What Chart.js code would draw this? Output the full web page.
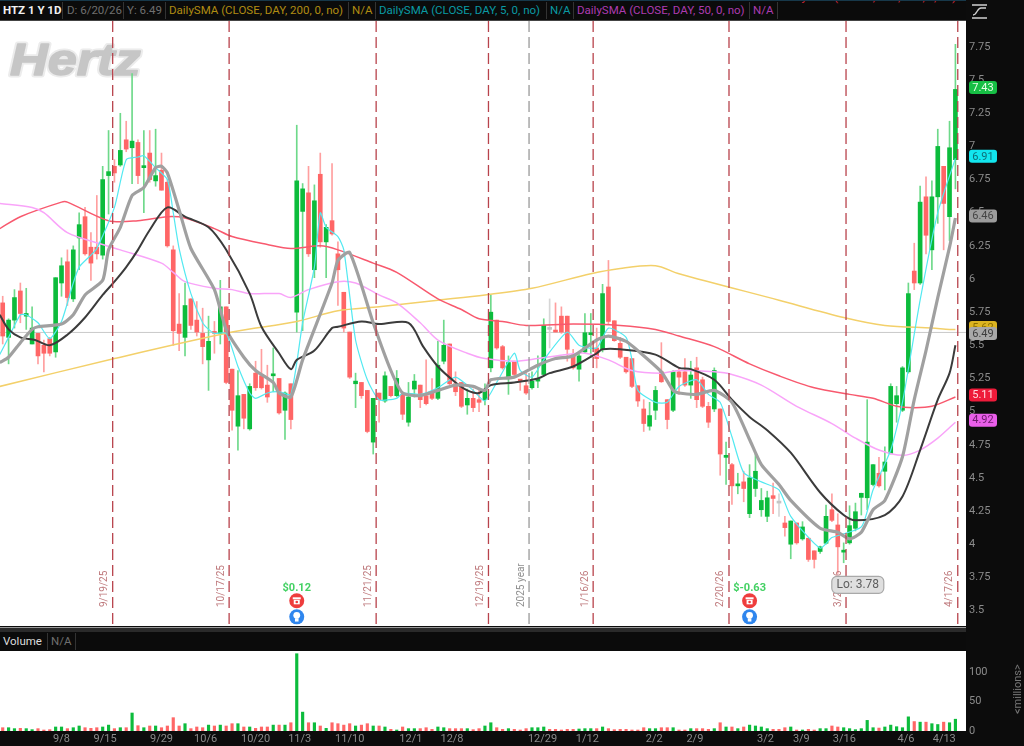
<!DOCTYPE html>
<html>
<head>
<meta charset="utf-8">
<title>HTZ 1 Y 1D</title>
<script src="https://cdn.jsdelivr.net/npm/chart.js@4"></script>
<style>
    html, body { margin: 0; padding: 0; background: #0c0c0c; width: 1024px; height: 746px; overflow: hidden; font-family: Roboto, sans-serif; }
    canvas { position: absolute; left: 0; display: block; }
    #chartPrice { top: 0; }
    #chartVolume { top: 651px; }
    .strip { position: absolute; left: 0; width: 966px; background: #0b0b0b; overflow: hidden; font-size: 11.5px; line-height: 19px; white-space: nowrap; }
    .strip span { position: absolute; top: 0; }
    .strip i { position: absolute; top: 1px; bottom: 1px; width: 1px; background: #333; }
    #legend { top: 0; border-top: 1px solid #17384a; border-bottom: 1px solid #444; box-sizing: border-box; height: 21px; z-index: 2; }
    #volumeBar { top: 627px; height: 24px; border-top: 1px solid #999; box-sizing: border-box; background: #0b0b0b; }
    #volumeBar b { position: absolute; left: 0; right: 0; top: 0; height: 4px; background: #2a2a2a; }
    #volumeBar span { top: 4px; }
    #volumeBar i { top: 5px; }
    #millions { position: absolute; left: 995px; top: 684px; width: 46px; text-align: center; transform: rotate(-90deg); color: #777; font-size: 11px; line-height: 14px; }
    #tool { position: absolute; left: 971px; top: 3px; z-index: 2; }
</style>
</head>
<body>
<canvas id="chartPrice" width="1024" height="627"></canvas>
<canvas id="chartVolume" width="1024" height="95"></canvas>

<div id="legend" class="strip">
    <span style="left:3px;color:#f2f2f2;font-weight:700">HTZ 1 Y 1D</span><i style="left:62px"></i>
    <span style="left:67px;color:#6f6f6f">D: 6/20/26</span><i style="left:123px"></i>
    <span style="left:127px;color:#6f6f6f">Y: 6.49</span><i style="left:165px"></i>
    <span style="left:169px;color:#b08c12">DailySMA (CLOSE, DAY, 200, 0, no)</span><i style="left:348px"></i>
    <span style="left:352px;color:#b08c12">N/A</span><i style="left:375px"></i>
    <span style="left:379px;color:#0a9aa3">DailySMA (CLOSE, DAY, 5, 0, no)</span><i style="left:546px"></i>
    <span style="left:550px;color:#0a9aa3">N/A</span><i style="left:573px"></i>
    <span style="left:577px;color:#ad3bb0">DailySMA (CLOSE, DAY, 50, 0, no)</span><i style="left:749px"></i>
    <span style="left:753px;color:#ad3bb0">N/A</span><i style="left:777px"></i>
    <span style="left:782px;top:-13px;color:#d8283c">DailySMA (CLOSE, DAY, 100, 0, no)</span>
</div>
<svg id="tool" width="18" height="18" viewBox="0 0 18 18" fill="none" stroke="#cfcfcf" stroke-width="1.4">
    <path d="M1 2h15M1 15h15M2 12c4 0 4-7 8-7h5"/>
</svg>

<div id="volumeBar" class="strip">
    <b></b>
    <span style="left:3px;color:#dcdcdc">Volume</span><i style="left:47px"></i>
    <span style="left:51px;color:#6f6f6f">N/A</span><i style="left:75px"></i>
</div>
<div id="millions">&lt;millions&gt;</div>

<script>
// candles, one per trading day
const opens = [5.82,5.56,5.69,5.91,5.72,5.51,5.59,5.50,5.55,5.45,
    5.97,6.13,5.85,6.31,6.47,6.24,6.24,6.18,6.78,6.85,
    6.86,7.05,6.99,7.03,6.84,6.95,6.74,6.82,6.73,6.22,
    5.66,5.56,5.85,5.69,5.59,5.39,5.595,5.59,5.79,5.32,
    4.89,5.13,4.87,5.29,5.27,5.20,5.27,5.25,5.01,5.21,
    5.75,6.51,6.65,6.07,6.79,6.28,6.44,6.19,5.90,5.60,
    5.21,5.22,5.16,4.77,5.14,5.08,5.19,5.12,5.13,4.92,
    5.17,5.20,5.12,5.15,5.10,5.38,5.51,5.21,5.22,5.05,
    5.10,5.09,5.09,5.33,5.69,5.49,5.26,5.38,5.24,5.195,
    5.18,5.23,5.28,5.62,5.615,5.72,5.72,5.43,5.32,5.45,
    5.58,5.48,5.47,5.94,5.685,5.515,5.41,5.40,5.195,5.02,
    4.89,5.01,5.30,5.09,5.01,5.30,5.30,5.20,5.33,5.24,
    5.04,5.02,5.02,4.655,4.60,4.44,4.47,4.23,4.42,4.26,
    4.21,4.366,4.31,4.16,4.00,4.16,4.04,4.045,3.95,3.945,
    4.007,4.26,4.145,3.94,4.01,4.12,4.353,4.35,4.45,4.535,
    4.55,4.685,5.06,5.01,5.30,6.06,5.97,6.62,6.22,6.62,
    6.85,6.47,6.90]
const closes = [5.57,5.69,5.86,5.74,5.74,5.63,5.42,5.44,5.44,6.01,
    6.10,5.86,6.22,6.41,6.19,6.12,6.19,6.75,6.81,6.80,
    6.97,6.98,7.04,6.78,6.85,6.75,6.78,6.67,6.25,5.61,
    5.59,5.80,5.65,5.60,5.49,5.53,5.59,5.79,5.22,5.01,
    5.12,4.95,5.19,5.18,5.18,5.11,5.28,4.99,5.14,4.94,
    6.74,6.68,6.19,6.59,6.28,6.39,6.34,6.07,5.63,5.26,
    5.23,5.12,4.85,5.10,5.09,5.27,5.12,5.25,4.98,5.11,
    5.23,5.09,5.06,5.10,5.35,5.50,5.21,5.15,5.04,5.10,
    5.03,5.07,5.16,5.75,5.48,5.33,5.37,5.28,5.23,5.14,
    5.23,5.245,5.65,5.62,5.60,5.60,5.47,5.33,5.42,5.595,
    5.59,5.40,5.89,5.68,5.535,5.41,5.30,5.19,5.08,4.91,
    4.97,5.16,5.225,4.94,5.30,5.26,5.20,5.276,5.09,5.04,
    4.92,5.31,4.68,4.67,4.44,4.447,4.42,4.50,4.55,4.33,
    4.35,4.345,4.31,4.125,4.175,4.01,4.13,3.885,3.885,3.98,
    4.21,4.18,3.98,3.95,4.14,4.245,4.384,4.77,4.60,4.44,
    4.62,5.19,5.12,5.33,5.89,5.97,6.58,6.33,6.62,7.00,
    6.57,6.99,7.43]
const highs = [5.87,5.70,5.92,5.97,5.93,5.79,5.59,5.54,5.56,6.01,
    6.16,6.22,6.25,6.50,6.54,6.35,6.63,6.85,7.12,6.90,
    7.25,7.19,7.55,7.05,7.12,7.12,7.13,6.95,6.75,6.25,
    5.89,5.97,5.85,5.83,5.78,5.72,5.68,5.99,5.79,5.32,
    5.31,5.13,5.21,5.38,5.47,5.35,5.48,5.25,5.15,5.21,
    7.16,6.72,6.85,6.71,6.95,6.41,6.87,6.28,5.90,5.60,
    5.29,5.22,5.16,5.10,5.14,5.30,5.19,5.31,5.13,5.22,
    5.28,5.20,5.39,5.25,5.53,5.69,5.51,5.30,5.22,5.17,
    5.17,5.17,5.21,5.88,5.69,5.50,5.42,5.38,5.24,5.29,
    5.30,5.42,5.70,5.85,5.82,5.79,5.72,5.47,5.45,5.74,
    5.74,5.63,5.96,6.14,5.685,5.56,5.41,5.40,5.195,5.09,
    5.07,5.19,5.52,5.09,5.31,5.33,5.40,5.38,5.41,5.26,
    5.07,5.33,5.02,4.77,4.61,4.535,4.55,4.60,4.68,4.42,
    4.40,4.46,4.38,4.21,4.175,4.16,4.17,4.045,3.95,3.985,
    4.295,4.38,4.23,4.01,4.29,4.31,4.385,5.09,4.60,4.655,
    4.735,5.21,5.19,5.34,5.97,6.27,6.70,6.77,6.74,7.13,
    6.85,7.19,7.77]
const lows = [5.51,5.36,5.63,5.67,5.62,5.51,5.36,5.30,5.42,5.41,
    5.87,5.80,5.83,6.07,6.18,5.99,6.15,6.15,6.49,6.73,
    6.85,6.96,6.72,6.72,6.50,6.73,6.70,6.67,6.24,5.50,
    5.46,5.42,5.62,5.57,5.36,5.16,5.44,5.51,5.21,4.86,
    4.71,4.87,4.86,5.16,5.17,5.07,5.15,4.98,4.79,4.87,
    5.60,5.61,6.17,6.01,6.24,6.01,6.33,5.80,5.60,5.25,
    5.03,5.10,4.84,4.68,4.92,5.07,5.11,5.11,4.94,4.89,
    5.11,5.03,5.05,5.09,5.09,5.36,5.20,5.12,5.03,4.98,
    5.00,5.00,5.05,5.30,5.47,5.32,5.13,5.27,5.16,5.13,
    5.17,5.18,5.27,5.48,5.60,5.59,5.38,5.32,5.23,5.44,
    5.41,5.33,5.45,5.66,5.53,5.40,5.29,5.18,5.04,4.85,
    4.86,4.94,5.22,4.87,5.00,5.13,5.19,5.10,5.03,5.03,
    4.88,5.00,4.52,4.45,4.30,4.38,4.32,4.20,4.36,4.21,
    4.17,4.23,4.21,4.06,3.89,4.00,4.03,3.87,3.82,3.93,
    4.00,4.17,3.78,3.86,4.00,4.10,4.22,4.26,4.44,4.43,
    4.41,4.68,4.92,5.00,5.29,5.92,5.96,6.19,6.07,6.42,
    6.22,6.29,6.68]

// volume in millions
const volumes = [5.6,5.6,4,4.5,4,2.3,4,1.7,2.3,6.8,
    6.8,4,5.6,8.5,5.6,4.5,5.6,6.8,10,4,
    5.6,5.6,30.5,9,5.6,8.5,8.5,5.6,8.5,22.6,
    8.5,12.4,4,6.8,5.6,10,8.5,10,8.5,12.4,
    12.4,6.8,6.8,4.5,6.8,6.8,10,10,10,14,
    131,32,14,14,8.5,4.5,14,12.4,10,12.4,
    8.5,10,12.4,8.5,8.5,6.8,2.8,1.7,6.8,4,
    4,4,5.6,2.8,6.8,5.6,4,4,4,4,
    2.3,4,8.5,14,5.6,2.8,4,2.8,1.7,4,
    5.6,5.6,6.8,2.8,2.8,1.7,2.8,2.8,3.4,4,
    4,4,6.8,4,2.3,2.8,2.8,1.7,1.7,5.6,
    4,4,5.6,5.6,5.6,1.7,1.7,4,4,4,
    2.8,4,14,6.8,6.8,4,6.8,10,8.5,6.8,
    4,2.8,2.8,5.6,6.8,1.7,1.7,2.8,1.7,4,
    4,8.5,6.8,5.6,4,2.3,4,18,5.6,5,
    6.8,10,7.3,5.6,24,16,15,15,12.4,11,
    15,14,20]

// moving averages, read at the bends of each line (x is the candle number)
const sma200Idx = [-0.5,19,39,50,57,64,74,82,90,100,105,111,115,132,143,150,158,161,162]
const sma200 = [5.19,5.40,5.60,5.68,5.76,5.79,5.84,5.88,5.93,6.04,6.08,6.10,6.04,5.84,5.71,5.65,5.63,5.62,5.62]

const sma100Idx = [-0.5,3,10,11,18,23,28,31,36,39,45,49,54,57,63,67,74,78,81,85,89,97,105,111,115,121,127,132,138,144,148,152,155,158,162]
const sma100 = [6.38,6.47,6.58,6.58,6.44,6.44,6.47,6.46,6.38,6.32,6.26,6.23,6.25,6.22,6.12,6.05,5.85,5.77,5.70,5.68,5.65,5.66,5.65,5.62,5.57,5.49,5.36,5.27,5.18,5.13,5.10,5.04,5.03,5.04,5.11]

const sma50Idx = [-0.5,5,7,11,17,20,27,29,31,36,39,42,47,49,52,57,60,64,67,71,74,79,82,87,91,96,99,103,107,112,115,121,124,129,135,141,145,149,153,156,159,162]
const sma50 = [6.57,6.54,6.50,6.35,6.26,6.22,6.12,6.05,5.98,5.93,5.92,5.89,5.89,5.86,5.92,5.98,5.97,5.88,5.82,5.67,5.54,5.44,5.40,5.38,5.40,5.43,5.44,5.39,5.31,5.29,5.31,5.30,5.28,5.20,5.04,4.91,4.80,4.71,4.67,4.71,4.80,4.92]

const sma20Idx = [-0.5,1,3,5.5,8,11,14,17,19,21,23,25,28,31,35,38,42,44,47,49,50,53,56,57,61,64,69,71.5,74,77,79,81,83,87,91,93,97,101,102,105,111,115,117,121,124,127,130,134,139,143,145,150,153,156,159,161,162]
const sma20 = [5.73,5.62,5.56,5.54,5.50,5.58,5.71,5.88,5.98,6.09,6.22,6.37,6.54,6.47,6.39,6.22,5.89,5.64,5.44,5.32,5.39,5.46,5.63,5.64,5.68,5.66,5.67,5.49,5.34,5.22,5.16,5.14,5.20,5.22,5.25,5.29,5.34,5.44,5.47,5.47,5.43,5.33,5.32,5.24,5.09,4.96,4.86,4.69,4.39,4.22,4.18,4.22,4.36,4.71,5.09,5.29,5.50]

const sma10Idx = [-0.5,1,3,5,6,10,12,14,17,18,20,22,24,26,27,28,30,32,36,38,41,43,46,47,49,51,56,57,59,63,66,68,71,74,77,80,82,83,87,91,94,97,101,103,106,108,112,114,115,118,121,124,127,129,132,134,139,142,144,146,148,150,153,155,157,159,161,162]
const sma10 = [5.37,5.41,5.52,5.62,5.64,5.66,5.73,5.88,5.99,6.22,6.39,6.63,6.69,6.84,6.85,6.80,6.52,6.23,5.92,5.62,5.41,5.31,5.22,5.14,5.11,5.39,5.97,6.14,6.20,5.67,5.31,5.14,5.12,5.16,5.20,5.19,5.16,5.24,5.26,5.35,5.40,5.42,5.54,5.57,5.53,5.46,5.30,5.16,5.14,5.13,5.16,5.07,4.79,4.60,4.45,4.33,4.12,4.09,4.04,4.09,4.26,4.33,4.66,5.09,5.46,5.86,6.24,6.46]

const sma5Idx = [-0.5,1,3,4,6,8,10,12,13,15,16,19,21,23,24,26,28,29,30,32,34,35,36,38,40,42,43,45,47,49,51,53,54,55,57,58,60,62,64,67,68,71,74,77,80,82,84,87,88,90,92,96,98,101,103,106,107,108,111,113,115,118,120,122,124,126,129,132,134,139,141,146,148,151,153,156,159,162]
const sma5 = [5.43,5.56,5.73,5.73,5.67,5.55,5.68,5.97,6.09,6.18,6.23,6.54,6.90,6.92,6.93,6.84,6.75,6.50,6.23,5.89,5.67,5.62,5.59,5.59,5.34,5.14,5.10,5.14,5.15,5.13,5.67,6.09,6.50,6.39,6.32,6.22,5.54,5.24,5.09,5.10,5.14,5.13,5.18,5.26,5.16,5.08,5.22,5.44,5.31,5.26,5.39,5.60,5.50,5.48,5.63,5.56,5.39,5.16,5.07,5.07,5.19,5.24,5.13,5.07,4.81,4.54,4.47,4.41,4.21,3.97,4.05,4.13,4.41,4.71,5.07,5.84,6.50,6.91]

// axes
const priceTicks = [3.5,3.75,4,4.25,4.5,4.75,5,5.25,5.5,5.75,6,6.25,6.5,6.75,7,7.25,7.5,7.75]
const volumeTicks = [0,50,100]
const dateTickIdx = [10,17.4,27,34.5,43,50.5,59,69.4,76.4,91.8,99.4,110.8,117.7,129.7,135.8,143.1,153.6,160.1]
const dateTicks = ['9/8','9/15','9/29','10/6','10/20','11/3','11/10','12/1','12/8','12/29','1/12','2/2','2/9','3/2','3/9','3/16','4/6','4/13']

// dashed period lines
const periodIdx = [18.7,38.5,63.5,82.6,100.4,123.5,143.4,162.4]
const periodLabels = ['9/19/25','10/17/25','11/21/25','12/19/25','1/16/26','2/20/26','3/20/26','4/17/26']
const yearIdx = 89.5
const yearLabel = '2025 year'

// earnings
const earningsIdx = [50,127]
const earningsLabels = ['$0.12','$-0.63']

const crosshairPrice = 5.597
const crosshairLabel = '6.49'
const lowIdx = 142
const lowPrice = 3.78

const xMin = -0.46
const xMax = 163.8
const priceMin = 3.383
const priceMax = 7.946
const volumeMax = 135.6
const axisWidth = 58
const axisFont = { family: 'Roboto, sans-serif', size: 11 }

const GREEN = '#0cbc3c'
const RED = '#ff6666'
const GREY = '#c4c4c4'

function candleColor(i) {
    if (closes[i] > opens[i]) return GREEN
    if (closes[i] < opens[i]) return RED
    return GREY
}

function wickColor(i) {
    if (closes[i] > opens[i]) return '#6ed98a'
    if (closes[i] < opens[i]) return '#ff9f9f'
    return '#d6d6d6'
}

function pairs(xs, ys) {
    return xs.map((x, i) => ({ x, y: ys[i] }))
}

function lineSet(xs, ys, color, width, order, tension) {
    return { type: 'line', data: pairs(xs, ys), borderColor: color, borderWidth: width, pointRadius: 0, tension, borderJoinStyle: 'round', order }
}

function priceTag(ctx, scale, value, text, bg, fg, shift) {
    const y = scale.getPixelForValue(value) + shift
    ctx.beginPath()
    ctx.roundRect(969, y - 6.5, 28, 13, 3)
    ctx.fillStyle = bg
    ctx.fill()
    ctx.fillStyle = fg
    ctx.font = '11px Roboto, sans-serif'
    ctx.textAlign = 'center'
    ctx.textBaseline = 'middle'
    ctx.fillText(text, 983, y + 0.5)
}

function rotatedLabel(ctx, x, y, text, color) {
    ctx.save()
    ctx.translate(x, y)
    ctx.rotate(-Math.PI / 2)
    ctx.fillStyle = color
    ctx.font = '10px Roboto, sans-serif'
    ctx.textAlign = 'left'
    ctx.textBaseline = 'middle'
    ctx.fillText(text, 0, 0)
    ctx.restore()
}

function drawEarnings(ctx, chart, idx, text) {
    const x = chart.scales.x.getPixelForValue(idx)
    const yLabel = chart.scales.y.getPixelForValue(3.67)
    const yPhone = chart.scales.y.getPixelForValue(3.573)
    const yBulb = chart.scales.y.getPixelForValue(3.452)

    ctx.fillStyle = '#43d163'
    ctx.font = '700 11px Roboto, sans-serif'
    ctx.textAlign = 'center'
    ctx.textBaseline = 'middle'
    ctx.fillText(text, x, yLabel)

    ctx.beginPath()
    ctx.arc(x, yPhone, 7.5, 0, Math.PI * 2)
    ctx.fillStyle = '#ee3d3d'
    ctx.fill()
    ctx.fillStyle = '#fff'
    ctx.fillRect(x - 4, yPhone - 3.5, 8, 2)
    ctx.fillRect(x - 3, yPhone - 1, 6, 4.5)
    ctx.fillStyle = '#ee3d3d'
    ctx.beginPath()
    ctx.arc(x, yPhone + 1.2, 1.3, 0, Math.PI * 2)
    ctx.fill()

    ctx.beginPath()
    ctx.arc(x, yBulb, 7.5, 0, Math.PI * 2)
    ctx.fillStyle = '#2f86ee'
    ctx.fill()
    ctx.fillStyle = '#fff'
    ctx.beginPath()
    ctx.arc(x, yBulb - 1.5, 3.4, 0, Math.PI * 2)
    ctx.fill()
    ctx.fillRect(x - 1.8, yBulb + 1.5, 3.6, 3.2)
}

const plotBackground = {
    id: 'plotBackground',
    beforeDraw(chart) {
        const a = chart.chartArea
        chart.ctx.fillStyle = '#fff'
        chart.ctx.fillRect(a.left, a.top, a.width, a.height)
    }
}

const priceBehind = {
    id: 'priceBehind',
    beforeDatasetsDraw(chart) {
        const ctx = chart.ctx
        const a = chart.chartArea

        // logo
        ctx.save()
        ctx.translate(10, 75)
        ctx.scale(1.16, 1)
        ctx.font = 'italic 700 45px "Liberation Sans", sans-serif'
        ctx.textAlign = 'left'
        ctx.textBaseline = 'alphabetic'
        ctx.lineJoin = 'round'
        ctx.lineWidth = 5
        ctx.strokeStyle = '#ececec'
        ctx.strokeText('Hertz', 0, 0)
        ctx.lineWidth = 1.5
        ctx.strokeStyle = '#c6c6c6'
        ctx.strokeText('Hertz', 0, 0)
        ctx.fillStyle = '#c6c6c6'
        ctx.fillText('Hertz', 0, 0)
        ctx.restore()

        // crosshair
        const y = chart.scales.y.getPixelForValue(crosshairPrice)
        ctx.strokeStyle = '#c9c9c9'
        ctx.lineWidth = 1
        ctx.beginPath()
        ctx.moveTo(a.left, y)
        ctx.lineTo(a.right, y)
        ctx.stroke()
    }
}

const priceNotes = {
    id: 'priceNotes',
    afterDatasetsDraw(chart) {
        const ctx = chart.ctx
        const a = chart.chartArea
        const xs = chart.scales.x
        const ys = chart.scales.y

        ctx.save()
        ctx.lineWidth = 1.3

        // period lines and their dates
        ctx.setLineDash([11, 5])
        ctx.strokeStyle = '#b8434c'
        periodIdx.forEach((idx, i) => {
            const x = xs.getPixelForValue(idx)
            ctx.beginPath()
            ctx.moveTo(x, a.top)
            ctx.lineTo(x, a.bottom)
            ctx.stroke()
            rotatedLabel(ctx, x - 8, 607, periodLabels[i], '#bf7a7d')
        })
        const yearX = xs.getPixelForValue(yearIdx)
        ctx.strokeStyle = '#9a9a9a'
        ctx.beginPath()
        ctx.moveTo(yearX, a.top)
        ctx.lineTo(yearX, a.bottom)
        ctx.stroke()
        ctx.setLineDash([])
        rotatedLabel(ctx, yearX - 8, 607, yearLabel, '#8f8f8f')

        earningsIdx.forEach((idx, i) => drawEarnings(ctx, chart, idx, earningsLabels[i]))

        // low note
        const lowY = ys.getPixelForValue(lowPrice)
        const lowX = xs.getPixelForValue(lowIdx)
        ctx.beginPath()
        ctx.roundRect(lowX - 6, lowY + 3, 52, 17, 5)
        ctx.fillStyle = '#dfdfdf'
        ctx.fill()
        ctx.strokeStyle = '#a9a9a9'
        ctx.lineWidth = 1.2
        ctx.stroke()
        ctx.fillStyle = '#5e5e5e'
        ctx.font = '12px Roboto, sans-serif'
        ctx.textAlign = 'center'
        ctx.textBaseline = 'middle'
        ctx.fillText('Lo: ' + lowPrice.toFixed(2), lowX + 20, lowY + 11.5)
        ctx.restore()
    },
    afterDraw(chart) {
        const ctx = chart.ctx
        const ys = chart.scales.y
        ctx.save()
        priceTag(ctx, ys, closes[closes.length - 1], closes[closes.length - 1].toFixed(2), '#17bf45', '#e8ffe8', -2)
        priceTag(ctx, ys, sma5[sma5.length - 1], sma5[sma5.length - 1].toFixed(2), '#12e6ee', '#0d6f78', -2)
        priceTag(ctx, ys, sma10[sma10.length - 1], sma10[sma10.length - 1].toFixed(2), '#9c9c9c', '#454545', -2)
        priceTag(ctx, ys, sma200[sma200.length - 1], sma200[sma200.length - 1].toFixed(2), '#dcb421', '#8a6e00', -2)
        priceTag(ctx, ys, crosshairPrice, crosshairLabel, '#a8a8a8', '#3d3d3d', 1)
        priceTag(ctx, ys, sma100[sma100.length - 1], sma100[sma100.length - 1].toFixed(2), '#ee1b3a', '#ffd9de', -2)
        priceTag(ctx, ys, sma50[sma50.length - 1], sma50[sma50.length - 1].toFixed(2), '#ea5fea', '#6d1b6d', -2)
        ctx.restore()
    }
}

Chart.defaults.animation = false

new Chart(document.getElementById('chartPrice'), {
    type: 'bar',
    data: {
        datasets: [
            {
                label: 'wicks',
                data: highs.map((h, i) => ({ x: i, y: [lows[i], h] })),
                backgroundColor: highs.map((h, i) => wickColor(i)),
                barThickness: 1,
                grouped: false,
                order: 9
            },
            {
                label: 'bodies',
                data: opens.map((o, i) => ({ x: i, y: [o, closes[i]] })),
                backgroundColor: opens.map((o, i) => candleColor(i)),
                barThickness: 4,
                minBarLength: 2,
                grouped: false,
                order: 8
            },
            lineSet(sma200Idx, sma200, '#f3d06a', 1.5, 7, 0.3),
            lineSet(sma100Idx, sma100, '#f8596e', 1.5, 6, 0.3),
            lineSet(sma50Idx, sma50, '#f9a4f9', 1.5, 5, 0.3),
            lineSet(sma5Idx, sma5, '#52e9f1', 1.2, 4, 0.2),
            lineSet(sma20Idx, sma20, '#3b3b3b', 2, 3, 0.3),
            lineSet(sma10Idx, sma10, '#a0a0a0', 3.2, 2, 0.2)
        ]
    },
    options: {
        responsive: false,
        layout: { padding: { top: 21, bottom: 1 } },
        plugins: { legend: { display: false }, tooltip: { enabled: false } },
        scales: {
            x: { type: 'linear', display: false, offset: false, min: xMin, max: xMax },
            y: {
                position: 'right',
                min: priceMin,
                max: priceMax,
                grid: { display: false, drawTicks: false },
                border: { display: false },
                afterBuildTicks: s => { s.ticks = priceTicks.map(value => ({ value })) },
                afterFit: s => { s.width = axisWidth; s.paddingTop = 0; s.paddingBottom = 0 },
                ticks: { color: '#8b8b8b', font: axisFont, padding: 3, callback: v => String(v) }
            }
        }
    },
    plugins: [plotBackground, priceBehind, priceNotes]
})

new Chart(document.getElementById('chartVolume'), {
    type: 'bar',
    data: {
        datasets: [{
            data: volumes.map((v, i) => ({ x: i, y: v })),
            backgroundColor: volumes.map((v, i) => candleColor(i) === GREY ? RED : candleColor(i)),
            barThickness: 2.5
        }]
    },
    options: {
        responsive: false,
        plugins: { legend: { display: false }, tooltip: { enabled: false } },
        scales: {
            x: {
                type: 'linear',
                offset: false,
                min: xMin,
                max: xMax,
                grid: { display: false, drawTicks: false },
                border: { display: false },
                afterBuildTicks: s => { s.ticks = dateTickIdx.map(value => ({ value })) },
                afterFit: s => { s.height = 15; s.paddingLeft = 0; s.paddingRight = 0 },
                ticks: { color: '#8b8b8b', font: axisFont, padding: 2, maxRotation: 0, minRotation: 0, autoSkip: false, callback: (v, i) => dateTicks[i] }
            },
            y: {
                position: 'right',
                min: 0,
                max: volumeMax,
                grid: { display: false, drawTicks: false },
                border: { display: false },
                afterBuildTicks: s => { s.ticks = volumeTicks.map(value => ({ value })) },
                afterFit: s => { s.width = axisWidth; s.paddingTop = 0; s.paddingBottom = 0 },
                ticks: { color: '#8b8b8b', font: axisFont, padding: 3, callback: v => String(v) }
            }
        }
    },
    plugins: [plotBackground]
})
</script>
</body>
</html>
